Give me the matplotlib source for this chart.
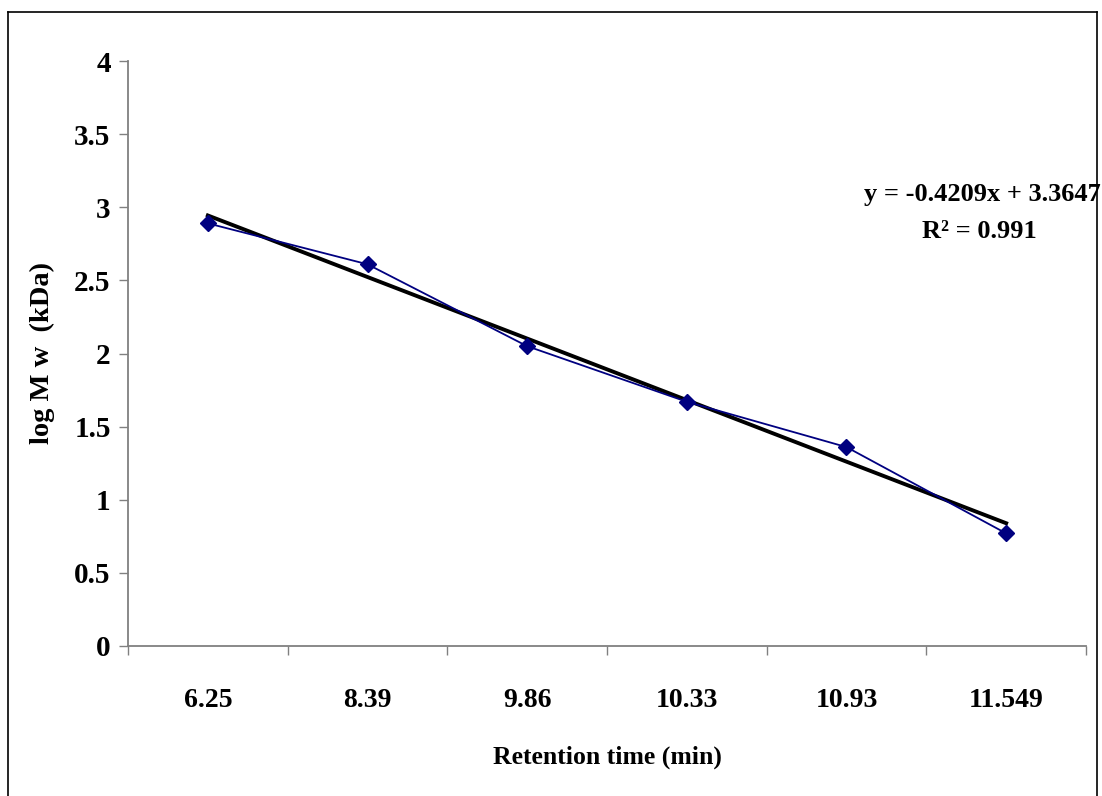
import numpy as np
import matplotlib
matplotlib.use("Agg")
import matplotlib.pyplot as plt
from matplotlib.lines import Line2D

# data (category axis, Excel style)
categories = ["6.25", "8.39", "9.86", "10.33", "10.93", "11.549"]
log_mw = [2.89, 2.61, 2.05, 1.67, 1.36, 0.77]
y_ticks = [0, 0.5, 1, 1.5, 2, 2.5, 3, 3.5, 4]
y_tick_labels = ["0", "0.5", "1", "1.5", "2", "2.5", "3", "3.5", "4"]

NAVY = "#000080"
SPINE = "#808080"

plt.rcParams["font.family"] = ["Liberation Serif", "DejaVu Serif"]
plt.rcParams["font.weight"] = "bold"

W, H = 1102, 796
fig = plt.figure(figsize=(W / 100, H / 100), dpi=100)
ax = fig.add_axes([128 / W, 1 - 646 / H, (1086 - 128) / W, (646 - 61) / H])

x = np.arange(1, len(categories) + 1)
ax.plot(x, log_mw, color=NAVY, lw=1.3, marker="D", ms=8, mfc=NAVY, mec=NAVY, zorder=3)

# linear trend over category index, like Excel
slope, intercept = np.polyfit(x, log_mw, 1)
ax.plot(x, slope * x + intercept, color="black", lw=2.8, zorder=2)

ss_res = np.sum((np.array(log_mw) - (slope * x + intercept)) ** 2)
ss_tot = np.sum((np.array(log_mw) - np.mean(log_mw)) ** 2)
r2 = 1 - ss_res / ss_tot

ax.set_xlim(0.5, len(categories) + 0.5)
ax.set_ylim(0, 4)
ax.set_yticks(y_ticks)
ax.set_yticklabels(y_tick_labels)
ax.set_xticks(x)
ax.set_xticklabels(categories)
ax.set_xticks(np.arange(0.5, len(categories) + 1, 1), minor=True)

ax.tick_params(axis="y", direction="out", length=6.5, width=1, color=SPINE,
               labelsize=21, pad=6)
ax.tick_params(axis="x", which="major", length=0, labelsize=20, pad=30)
ax.tick_params(axis="x", which="minor", direction="out", length=6.5, width=1, color=SPINE)

for s in ("top", "right"):
    ax.spines[s].set_visible(False)
for s in ("left", "bottom"):
    ax.spines[s].set_color(SPINE)
    ax.spines[s].set_linewidth(1.3)

ax.set_xlabel("Retention time (min)", fontsize=18.5, fontweight="bold", labelpad=24)
ax.set_ylabel("log M w  (kDa)", fontsize=20.5, fontweight="bold", labelpad=14)

ax.text(982 / W, 1 - 195 / H, f"y = {slope:.4f}x + {intercept:.4f}",
        transform=fig.transFigure, ha="center", va="center", fontsize=19, fontweight="bold")
ax.text(979 / W, 1 - 232 / H, f"R\u00b2 = {r2:.3f}",
        transform=fig.transFigure, ha="center", va="center", fontsize=19, fontweight="bold")

# chart area border (Excel frame)
for xs, ys in (([8, 1097], [12, 12]), ([8, 8], [12, 800]), ([1097, 1097], [12, 800])):
    fig.add_artist(Line2D([v / W for v in xs], [1 - v / H for v in ys],
                          transform=fig.transFigure, color="black", lw=1.2))

fig.savefig("out.png", dpi=100)
